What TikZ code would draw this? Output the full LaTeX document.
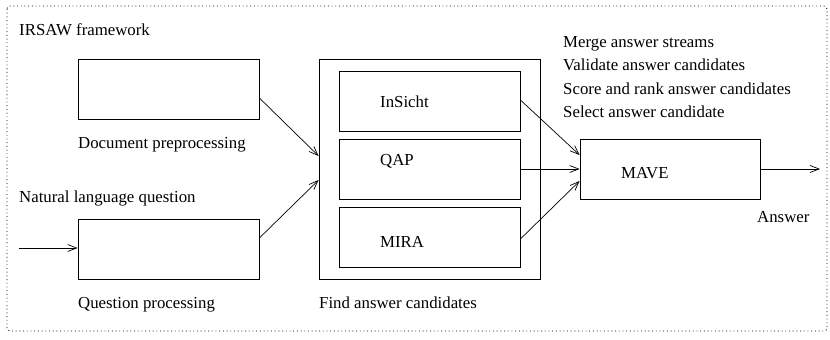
\documentclass[tikz,border=0pt]{standalone}
\usepackage{fontspec}
\setmainfont{Liberation Serif}
\usetikzlibrary{arrows.meta}
\begin{document}
\begin{tikzpicture}[x=1pt,y=-1pt,
  box/.style={draw,line width=0.8pt,inner sep=0pt},
  lbl/.style={anchor=base west,inner sep=0pt,font=\fontsize{16.8}{20}\selectfont},
  conn/.style={line width=0.7pt,-{Straight Barb[length=9pt,width=7pt,line width=0.7pt]}},
  frame/.style={draw,line width=0.9pt,dash pattern=on 0.9pt off 2.8pt,rounded corners=3pt}]
\useasboundingbox (0,0) rectangle (830,340);
\draw[frame] (7,6) rectangle (827,331);
% boxes
\node[box,minimum width=181pt,minimum height=60pt] (doc) at (168.5,89) {};
\node[box,minimum width=181pt,minimum height=60pt] (qp) at (168.5,249) {};
\node[box,minimum width=221pt,minimum height=220pt] (fac) at (429.5,169) {};
\node[box,minimum width=181pt,minimum height=60pt] (ins) at (429.5,101) {};
\node[box,minimum width=181pt,minimum height=60pt] (qap) at (429.5,169) {};
\node[box,minimum width=181pt,minimum height=60pt] (mira) at (429.5,237) {};
\node[box,minimum width=180pt,minimum height=60pt] (mave) at (670,169) {};
% labels
\node[lbl] (t1) at (19,35) {IRSAW framework};
\node[lbl] (t2) at (78,148) {Document preprocessing};
\node[lbl] (t3) at (19,202) {Natural language question};
\node[lbl] (t4) at (78,308) {Question processing};
\node[lbl] (t5) at (319,308) {Find answer candidates};
\node[lbl] (t6) at (563,47) {Merge answer streams};
\node[lbl] (t7) at (563,70) {Validate answer candidates};
\node[lbl] (t8) at (563,94) {Score and rank answer candidates};
\node[lbl] (t9) at (563,117) {Select answer candidate};
\node[lbl] (l1) at (380,107) {InSicht};
\node[lbl] (l2) at (380,165) {QAP};
\node[lbl] (l3) at (380,247) {MIRA};
\node[lbl] (l4) at (621,178) {MAVE};
\node[lbl] (t10) at (757,222) {Answer};
% connectors
\coordinate (in) at (19,248);
\coordinate (out) at (820,169);
\draw[conn] (in) -- (qp.west |- in);
\draw[conn] (doc.east |- 0,98) -- (fac.west |- 0,156);
\draw[conn] (qp.east |- 0,238) -- (fac.west |- 0,180);
\draw[conn] (ins.east |- 0,100) -- (mave.west |- 0,155);
\draw[conn] (qap.east) -- (mave.west);
\draw[conn] (mira.east |- 0,239) -- (mave.west |- 0,181);
\draw[conn] (mave.east) -- (out);
\end{tikzpicture}
\end{document}
